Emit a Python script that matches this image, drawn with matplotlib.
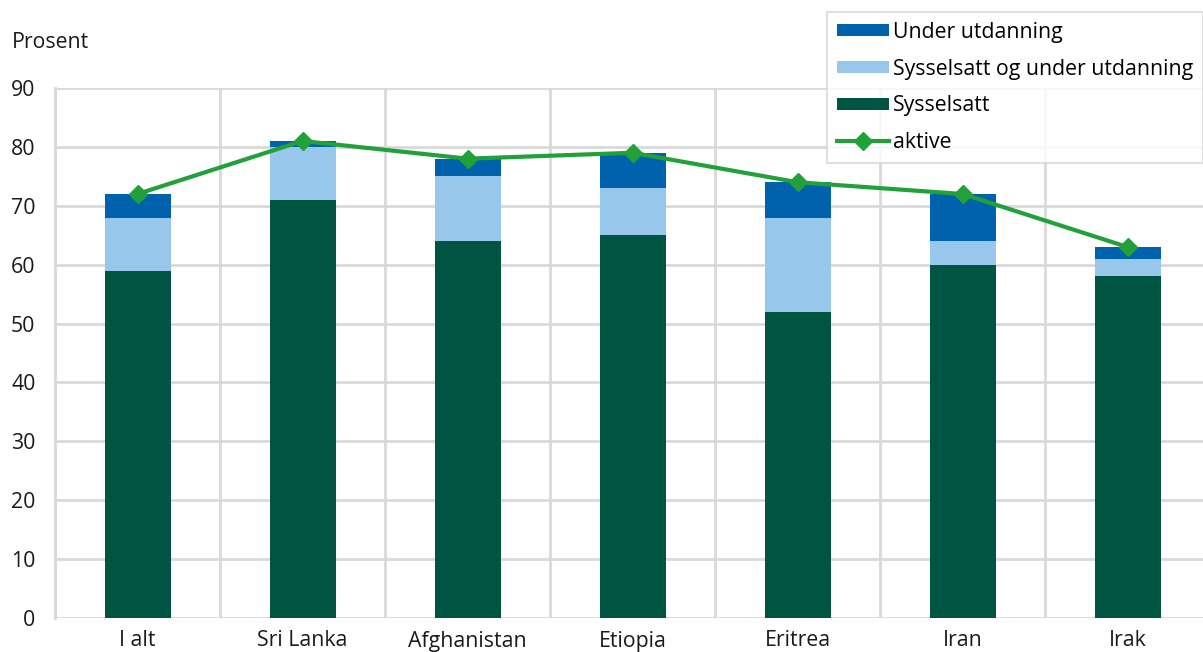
import numpy as np
import matplotlib.pyplot as plt

plt.rcParams['font.family'] = ['Open Sans', 'DejaVu Sans']

land = ['I alt', 'Sri Lanka', 'Afghanistan', 'Etiopia', 'Eritrea', 'Iran', 'Irak']
sysselsatt = [59, 71, 64, 65, 52, 60, 58]
syss_og_utd = [9, 9, 11, 8, 16, 4, 3]
under_utd = [4, 1, 3, 6, 6, 8, 2]
aktive = [72, 81, 78, 79, 74, 72, 63]

fig = plt.figure(figsize=(12.03, 6.52), dpi=100)
W, H = 1203, 652
ax = fig.add_axes([55 / W, 1 - 618 / H, (1210 - 55) / W, (618 - 88) / H])

x = np.arange(len(land))
b1 = np.array(sysselsatt)
b2 = b1 + np.array(syss_og_utd)
p1 = ax.bar(x, sysselsatt, width=0.4, color='#005442', zorder=2)
p2 = ax.bar(x, syss_og_utd, width=0.4, bottom=b1, color='#97C8EB', zorder=2)
p3 = ax.bar(x, under_utd, width=0.4, bottom=b2, color='#0062AC', zorder=2)
ln, = ax.plot(x, aktive, color='#22A03A', lw=3, marker='D', markersize=9, zorder=3)

ax.set_xlim(-0.5, len(land) - 0.5)
ax.set_ylim(0, 90)
ax.set_yticks(range(0, 91, 10))
ax.set_xticks(x)
ax.set_xticklabels(land)
ax.set_xticks(np.arange(len(land) + 1) - 0.5, minor=True)
ax.grid(axis='y', color='#D9D9D9', lw=2, zorder=0)
ax.grid(axis='x', which='minor', color='#D9D9D9', lw=2, zorder=0)
ax.tick_params(which='both', length=0, labelsize=15.3, colors='#1a1a1a')
ax.tick_params(axis='y', pad=14)
ax.tick_params(axis='x', pad=9)
for s in ['top', 'right', 'bottom']:
    ax.spines[s].set_visible(False)
ax.spines['left'].set_color('#D9D9D9')
ax.spines['left'].set_linewidth(2)

fig.text(12 / W, 1 - 42 / H, 'Prosent', fontsize=15.3, va='center', ha='left', color='#1a1a1a')

leg = fig.legend([p3, p2, p1, ln],
                 ['Under utdanning', 'Sysselsatt og under utdanning', 'Sysselsatt', 'aktive'],
                 loc='upper right', bbox_to_anchor=(1.0, 1 - 12 / H),
                 fontsize=15.3, frameon=True, fancybox=False, edgecolor='#D9D9D9',
                 handlelength=2.45, handleheight=0.55, labelspacing=0.75,
                 handletextpad=0.2, borderpad=0.45, borderaxespad=0.0)
leg.get_frame().set_linewidth(1.5)

fig.savefig('out.png', dpi=100)
